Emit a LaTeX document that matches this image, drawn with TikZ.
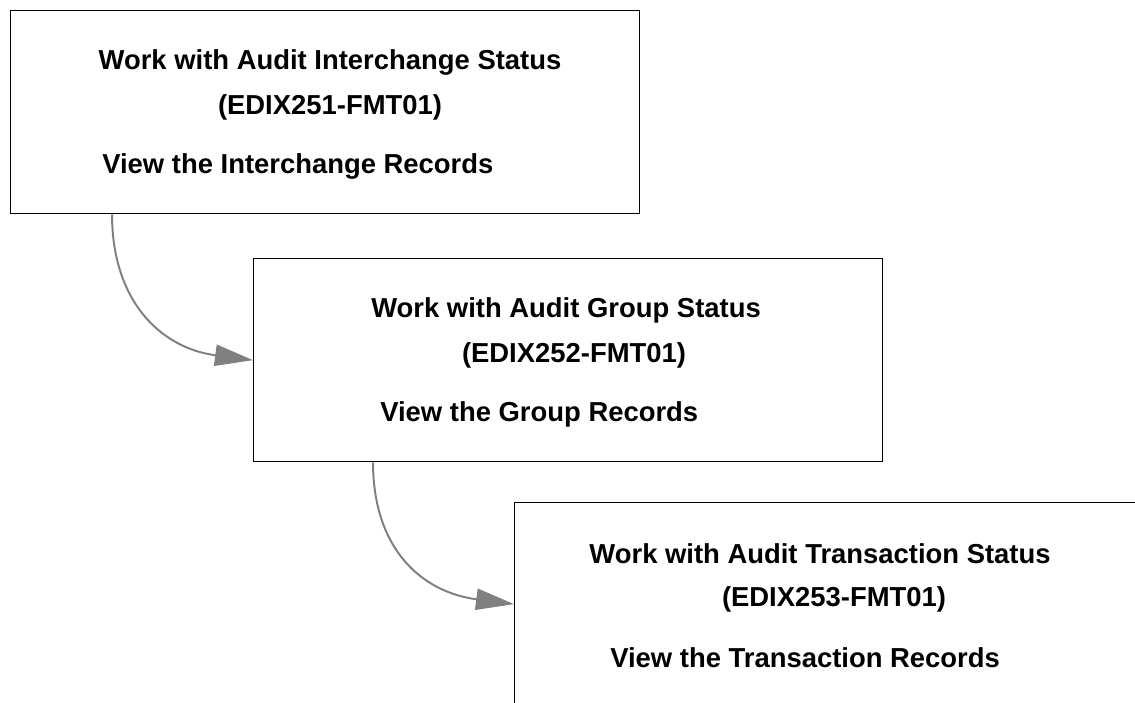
\documentclass[tikz,border=0pt]{standalone}
\usepackage{fontspec}
\setmainfont{Liberation Sans}
\usepackage{tikz}
\usetikzlibrary{arrows.meta,calc}

\tikzset{
  screenbox/.style={draw=black, line width=0.9pt, rectangle, minimum width=15.725cm, minimum height=5.075cm, anchor=north west, inner sep=0pt},
  screentext/.style={font=\fontsize{19.5}{23}\selectfont\bfseries, inner sep=0pt},
  flowarrow/.style={-{Triangle[length=0.95cm,width=0.53cm]}, draw=gray, line width=1.4pt}
}

\begin{document}
\begin{tikzpicture}[x=0.025cm, y=-0.025cm]
        \clip (0,0) rectangle (1135,702);

        % Screen 1: Interchange status
        \node[screenbox] (scr1) at (10,10) {};
        \node[screentext] (title1) at (330,62) {Work with Audit Interchange Status};
        \node[screentext] (code1) at (330,107) {(EDIX251-FMT01)};
        \node[screentext, anchor=west] (view1) at (102,166) {View the Interchange Records};

        % Screen 2: Group status
        \node[screenbox] (scr2) at (253,258) {};
        \node[screentext] (title2) at (566,310) {Work with Audit Group Status};
        \node[screentext] (code2) at (574,355) {(EDIX252-FMT01)};
        \node[screentext, anchor=west] (view2) at (380,414) {View the Group Records};

        % Screen 3: Transaction status
        \node[screenbox] (scr3) at (514,502) {};
        \node[screentext] (title3) at (820,554) {Work with Audit Transaction Status};
        \node[screentext] (code3) at (834,599) {(EDIX253-FMT01)};
        \node[screentext, anchor=west] (view3) at (610,658) {View the Transaction Records};

        % Drill-down arrows
        \draw[flowarrow] ([xshift=2.55cm]scr1.south west) .. controls +(0,87) and +(-92,-12) .. (scr2.west);
        \draw[flowarrow] ([xshift=3cm]scr2.south west) .. controls +(0,87) and +(-92,-12) .. (scr3.west);
\end{tikzpicture}
\end{document}
